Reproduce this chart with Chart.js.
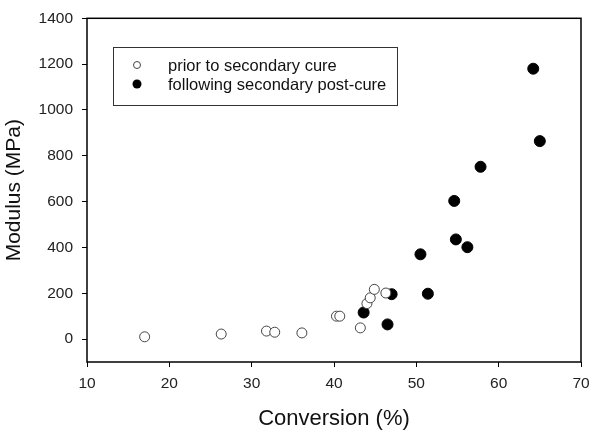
<!DOCTYPE html>
<html>
<head>
<meta charset="utf-8">
<script src="https://cdn.jsdelivr.net/npm/chart.js@4"></script>
<style>
  html, body { margin: 0; padding: 0; background: #fff; }
  #wrap { width: 601px; height: 440px; }
</style>
</head>
<body>
<div id="wrap"><canvas id="modChart" width="601" height="440"></canvas></div>
<script>
// data
const priorX = [17.0, 26.3, 31.8, 32.8, 36.1, 40.3, 40.7, 43.2, 44.0, 44.4, 44.9, 46.3];
const priorY = [10, 22, 35, 30, 27, 100, 100, 49, 155, 180, 217, 201];
const postX = [43.6, 46.5, 47.0, 50.5, 51.4, 54.6, 54.8, 56.2, 57.8, 64.2, 65.0];
const postY = [116, 64, 196, 370, 198, 603, 435, 401, 752, 1180, 864];
const xTicks = [10, 20, 30, 40, 50, 60, 70];
const yTicks = [0, 200, 400, 600, 800, 1000, 1200, 1400];
const seriesNames = ['prior to secondary cure', 'following secondary post-cure'];

const FONT = '"Liberation Sans", Arial, sans-serif';

function toPoints(xs, ys) {
    return xs.map((x, i) => ({ x: x, y: ys[i] }));
}

// frame round the plot + legend box inside it
const framePlugin = {
    id: 'frame',
    afterDraw(chart) {
        const ctx = chart.ctx;
        const a = chart.chartArea;
        ctx.save();
        ctx.strokeStyle = '#000';
        ctx.lineWidth = 1.5;
        ctx.strokeRect(a.left, a.top, a.right - a.left, a.bottom - a.top);

        // legend
        ctx.lineWidth = 1;
        ctx.strokeStyle = '#333';
        ctx.strokeRect(113.5, 47.5, 284, 58);
        const rows = [65, 84];
        ctx.font = '16.5px ' + FONT;
        ctx.textBaseline = 'middle';
        rows.forEach((ry, i) => {
            ctx.beginPath();
            ctx.arc(137, ry, i === 0 ? 3.5 : 4.5, 0, Math.PI * 2);
            if (i === 0) {
                ctx.fillStyle = '#fff';
                ctx.fill();
                ctx.strokeStyle = '#444';
                ctx.stroke();
            } else {
                ctx.fillStyle = '#000';
                ctx.fill();
            }
            ctx.fillStyle = '#111';
            ctx.fillText(seriesNames[i], 168, ry + 1);
        });
        ctx.restore();
    }
};

const ctx = document.getElementById('modChart').getContext('2d');
new Chart(ctx, {
    type: 'scatter',
    data: {
        datasets: [
            {
                label: seriesNames[0],
                data: toPoints(priorX, priorY),
                pointRadius: 5,
                pointBackgroundColor: '#fff',
                pointBorderColor: '#444',
                pointBorderWidth: 1
            },
            {
                label: seriesNames[1],
                data: toPoints(postX, postY),
                pointRadius: 5.5,
                pointBackgroundColor: '#000',
                pointBorderColor: '#000',
                pointBorderWidth: 1
            }
        ]
    },
    options: {
        responsive: false,
        animation: false,
        layout: { padding: { top: 17, right: 20, left: 0, bottom: 0 } },
        plugins: {
            legend: { display: false },
            tooltip: { enabled: false }
        },
        scales: {
            x: {
                type: 'linear',
                min: 10,
                max: 70,
                afterBuildTicks: s => { s.ticks = xTicks.map(v => ({ value: v })); },
                afterFit: s => { s.height = 78; },
                border: { display: false },
                grid: { drawOnChartArea: false, drawTicks: true, tickLength: 5, color: '#000', lineWidth: 1 },
                ticks: { color: '#222', font: { family: FONT, size: 15.5 }, padding: 7, maxRotation: 0, callback: v => String(v) },
                title: { display: true, text: 'Conversion (%)', color: '#111', font: { family: FONT, size: 22 }, padding: { top: 0, bottom: 8 } }
            },
            y: {
                type: 'linear',
                min: -100,
                max: 1400,
                afterBuildTicks: s => { s.ticks = yTicks.map(v => ({ value: v })); },
                afterFit: s => { s.width = 87; },
                border: { display: false },
                grid: { drawOnChartArea: false, drawTicks: true, tickLength: 5, color: '#000', lineWidth: 1 },
                ticks: { color: '#222', font: { family: FONT, size: 15.5 }, padding: 9, callback: v => String(v) },
                title: { display: true, text: 'Modulus (MPa)', color: '#111', font: { family: FONT, size: 21 }, padding: { top: 2, bottom: 0 } }
            }
        }
    },
    plugins: [framePlugin]
});
</script>
</body>
</html>
